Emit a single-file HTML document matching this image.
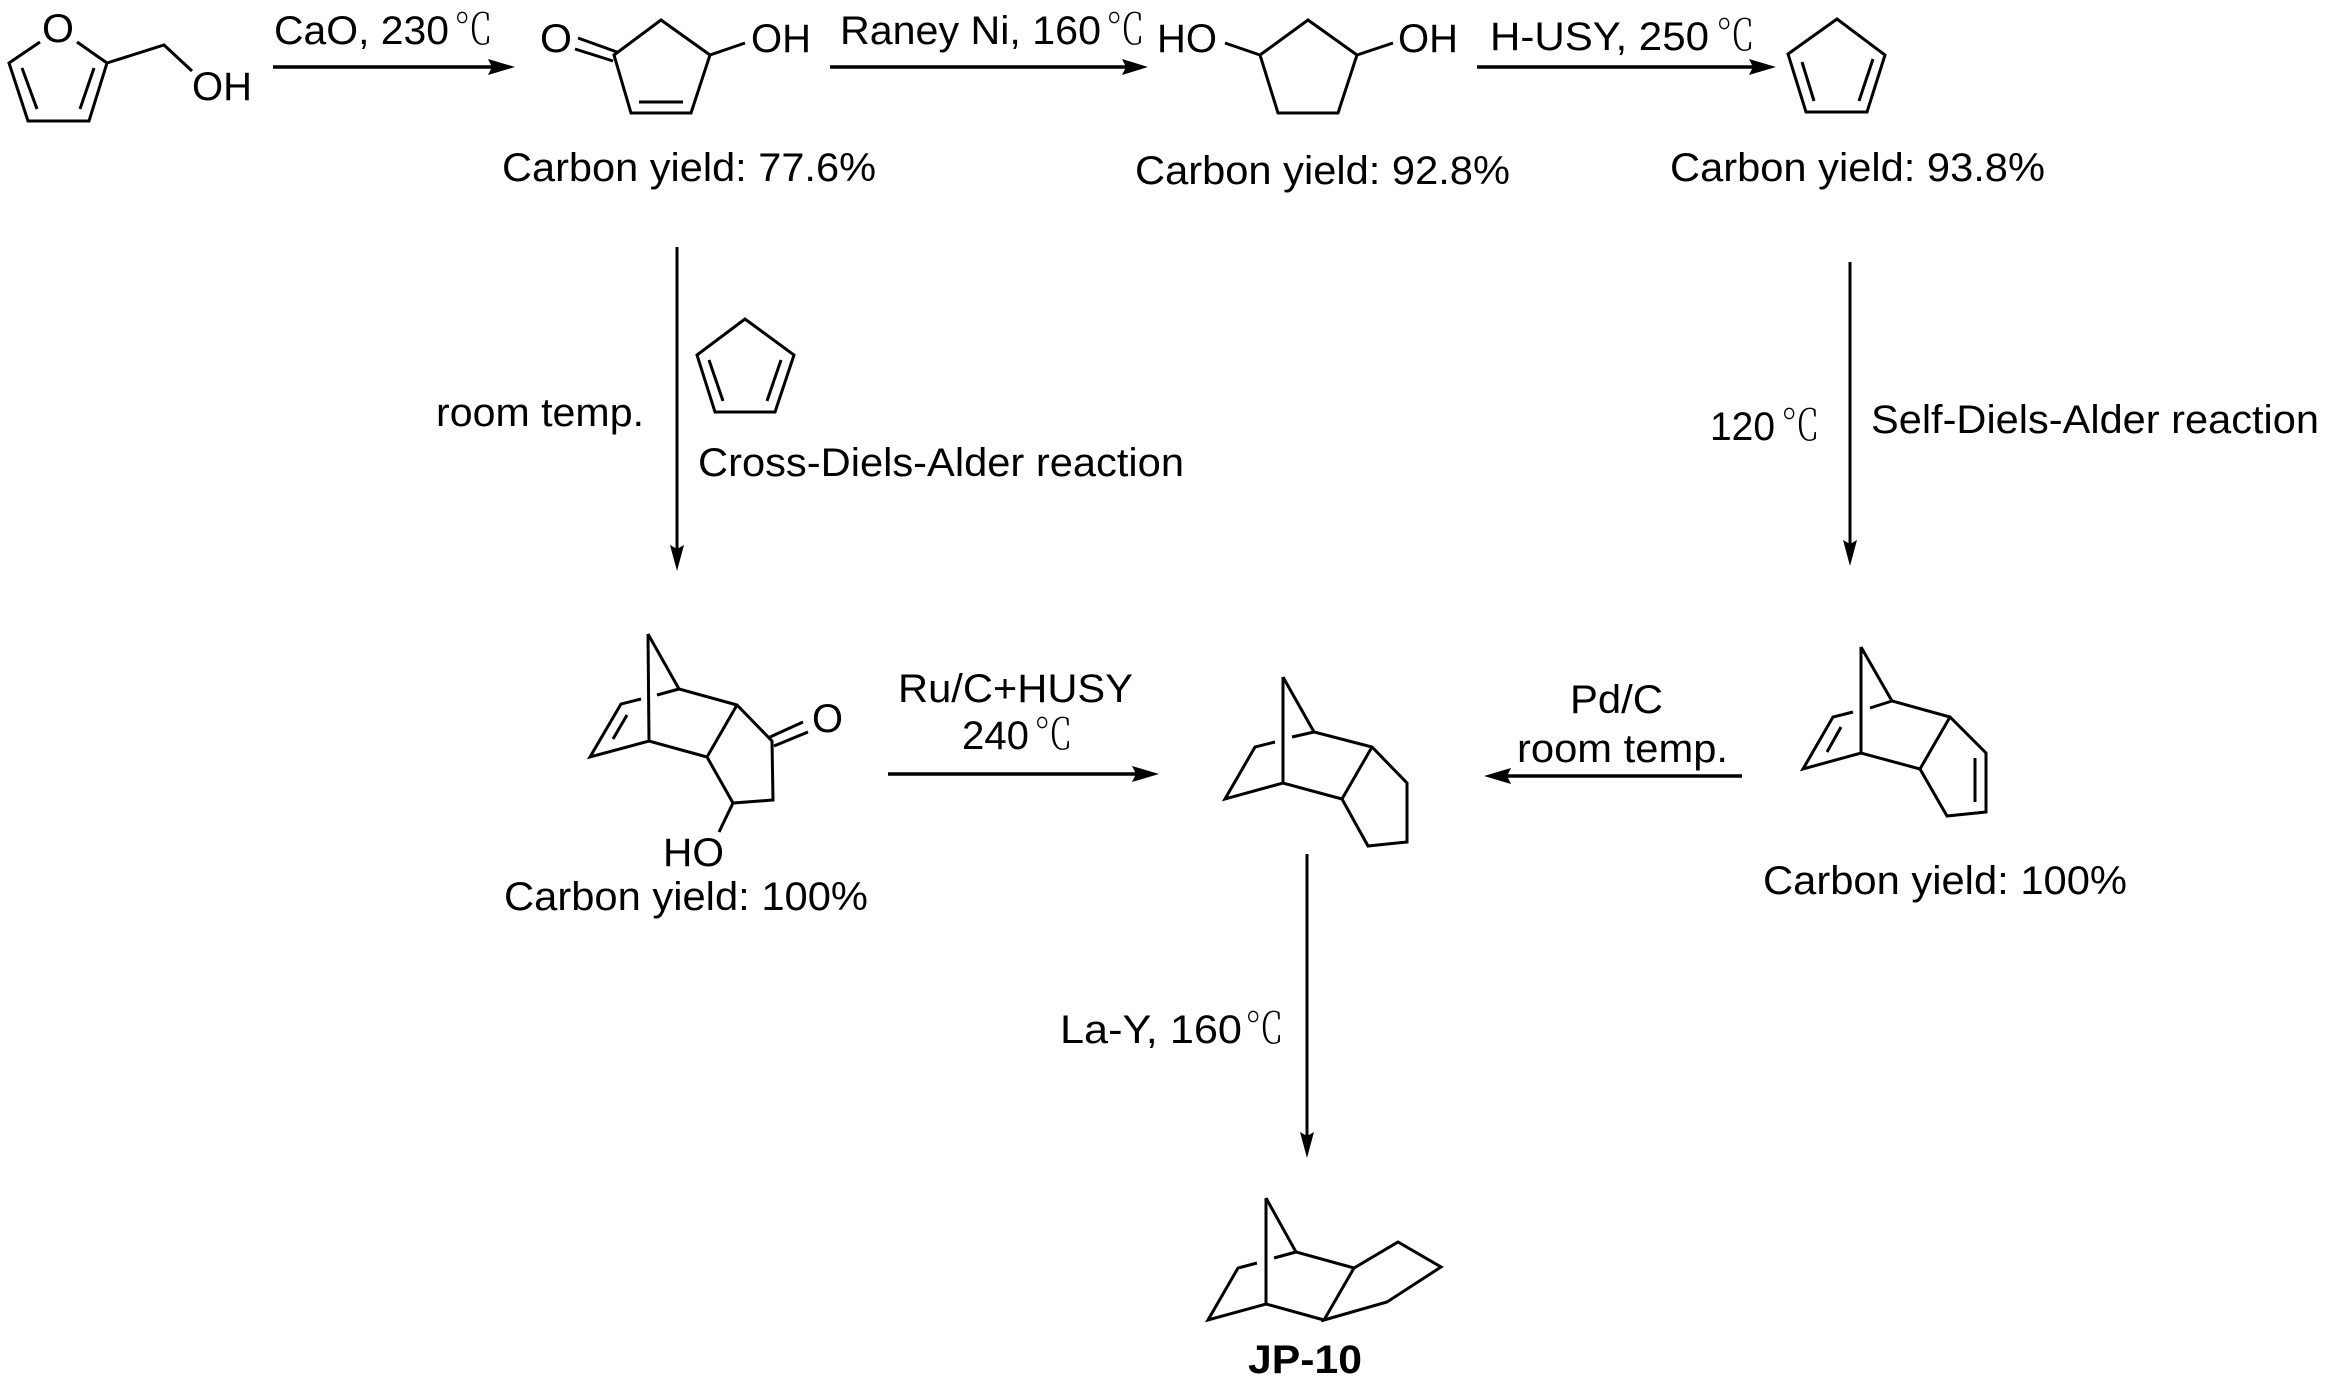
<!DOCTYPE html>
<html><head><meta charset="utf-8">
<style>
html,body{margin:0;padding:0;background:#fff}
svg{display:block}
text{font-family:"Liberation Sans",sans-serif;font-size:39.5px;fill:#000}
text.c{font-family:"Noto Serif CJK SC",serif;font-weight:200;font-size:42px}
.b{fill:none;stroke:#000;stroke-width:3;stroke-linejoin:miter;stroke-linecap:butt}
.a{stroke:#000;stroke-width:3.4;fill:none}
</style></head>
<body>
<svg width="2329" height="1394" viewBox="0 0 2329 1394" xmlns="http://www.w3.org/2000/svg">
<rect width="2329" height="1394" fill="#fff"/>

<!-- Furfuryl alcohol -->
<path class="b" d="M40,42 L9,63 L28,121 L89,121 L107,63 L77,42 M22,68 L37,109 M94,68 L80,109 M107,63 L164,45 L192,71"/>
<text x="42" y="42" textLength="32" lengthAdjust="spacingAndGlyphs">O</text>
<text x="192" y="100" textLength="60" lengthAdjust="spacingAndGlyphs">OH</text>

<!-- Arrow 1 -->
<line class="a" x1="273" y1="67" x2="495" y2="67"/>
<path d="M515,67 L488,59 L492,67 L488,75 Z"/>
<text x="274" y="44" textLength="175" lengthAdjust="spacingAndGlyphs">CaO, 230</text>
<text class="c" x="454" y="44" textLength="39" lengthAdjust="spacingAndGlyphs">℃</text>

<!-- Hydroxycyclopentenone -->
<path class="b" d="M614,55 L661,20 L710,55 L691,113 L631,113 Z M639,102 L683,102 M617,52 L578,38 M613,61 L575,49 M710,55 L745,43"/>
<text x="540" y="52" textLength="32" lengthAdjust="spacingAndGlyphs">O</text>
<text x="751" y="52" textLength="60" lengthAdjust="spacingAndGlyphs">OH</text>
<text x="502" y="181" textLength="374" lengthAdjust="spacingAndGlyphs">Carbon yield: 77.6%</text>

<!-- Arrow 2 -->
<line class="a" x1="830" y1="67" x2="1128" y2="67"/>
<path d="M1148,67 L1122,59 L1126,67 L1122,75 Z"/>
<text x="840" y="44" textLength="261" lengthAdjust="spacingAndGlyphs">Raney Ni, 160</text>
<text class="c" x="1106" y="44" textLength="39" lengthAdjust="spacingAndGlyphs">℃</text>

<!-- Cyclopentanediol -->
<path class="b" d="M1260,55 L1308,20 L1357,55 L1338,113 L1278,113 Z M1260,55 L1225,43 M1357,55 L1393,43"/>
<text x="1157" y="52" textLength="60" lengthAdjust="spacingAndGlyphs">HO</text>
<text x="1398" y="52" textLength="60" lengthAdjust="spacingAndGlyphs">OH</text>
<text x="1135" y="184" textLength="375" lengthAdjust="spacingAndGlyphs">Carbon yield: 92.8%</text>

<!-- Arrow 3 -->
<line class="a" x1="1477" y1="67" x2="1755" y2="67"/>
<path d="M1776,67 L1749,59 L1753,67 L1749,75 Z"/>
<text x="1490" y="50" textLength="219" lengthAdjust="spacingAndGlyphs">H-USY, 250</text>
<text class="c" x="1716" y="50" textLength="39" lengthAdjust="spacingAndGlyphs">℃</text>

<!-- Cyclopentadiene top -->
<path class="b" d="M1788,54 L1837,19 L1885,55 L1867,112 L1806,112 Z M1802,62 L1814,101 M1873,59 L1859,101"/>
<text x="1670" y="181" textLength="375" lengthAdjust="spacingAndGlyphs">Carbon yield: 93.8%</text>

<!-- Left vertical arrow -->
<line class="a" x1="677" y1="247" x2="677" y2="550" style="stroke-width:3"/>
<path d="M677,571 L670,545 L677,549 L684,545 Z"/>
<text x="436" y="426" textLength="208" lengthAdjust="spacingAndGlyphs">room temp.</text>
<path class="b" d="M697,355 L745,319 L794,355 L775,412 L715,412 Z M709,360 L723,401 M781,360 L767,401"/>
<text x="698" y="476" textLength="486" lengthAdjust="spacingAndGlyphs">Cross-Diels-Alder reaction</text>

<!-- Right vertical arrow -->
<line class="a" x1="1850" y1="262" x2="1856" y2="262" style="stroke-width:0"/>
<line class="a" x1="1856" y1="262" x2="1856" y2="545" style="stroke-width:0"/>
<line class="a" x1="1856" y1="262" x2="1856" y2="262" style="stroke-width:0"/>
<line class="a" x1="1850" y1="262" x2="1850" y2="545" style="stroke-width:3"/>
<path d="M1850,566 L1843,540 L1850,544 L1857,540 Z"/>
<text x="1710" y="440" textLength="65" lengthAdjust="spacingAndGlyphs">120</text>
<text class="c" x="1781" y="440" textLength="39" lengthAdjust="spacingAndGlyphs">℃</text>
<text x="1871" y="433" textLength="448" lengthAdjust="spacingAndGlyphs">Self-Diels-Alder reaction</text>

<!-- Cross adduct -->
<path class="b" d="M648,634 L649,741 M648,634 L679,689 L737,705 L772,741 L773,800 L733,803 L707,757 L737,705 M707,757 L649,741 L590,757 L621,704 L641,699 M657,695 L679,689 M627,715 L613,739 M770,737 L803,722 M774,746 L808,732 M733,803 L719,832"/>
<text x="812" y="732" textLength="31" lengthAdjust="spacingAndGlyphs">O</text>
<text x="663" y="866" textLength="61" lengthAdjust="spacingAndGlyphs">HO</text>
<text x="504" y="910" textLength="364" lengthAdjust="spacingAndGlyphs">Carbon yield: 100%</text>

<!-- Ru/C arrow -->
<text x="898" y="702" textLength="235" lengthAdjust="spacingAndGlyphs">Ru/C+HUSY</text>
<text x="962" y="749" textLength="67" lengthAdjust="spacingAndGlyphs">240</text>
<text class="c" x="1034" y="749" textLength="39" lengthAdjust="spacingAndGlyphs">℃</text>
<line class="a" x1="888" y1="774" x2="1137" y2="774"/>
<path d="M1159,774 L1132,766 L1136,774 L1132,782 Z"/>

<!-- Middle structure -->
<path class="b" d="M1283,677 L1283,783 M1283,677 L1314,732 L1372,747 L1407,783 L1407,842 L1368,846 L1342,799 L1372,747 M1342,799 L1283,783 L1225,799 L1255,747 L1275,742 M1292,737 L1314,732"/>

<!-- Pd/C arrow -->
<text x="1570" y="713" textLength="93" lengthAdjust="spacingAndGlyphs">Pd/C</text>
<text x="1517" y="762" textLength="211" lengthAdjust="spacingAndGlyphs">room temp.</text>
<line class="a" x1="1742" y1="776" x2="1500" y2="776"/>
<path d="M1484,776 L1511,768 L1507,776 L1511,784 Z"/>

<!-- Self adduct -->
<path class="b" d="M1861,647 L1861,753 M1861,647 L1892,701 L1950,717 L1986,753 L1986,812 L1947,816 L1920,769 L1950,717 M1920,769 L1861,753 L1803,769 L1833,717 L1853,712 M1870,708 L1892,701 M1841,727 L1827,752 M1975,758 L1975,802"/>
<text x="1763" y="894" textLength="364" lengthAdjust="spacingAndGlyphs">Carbon yield: 100%</text>

<!-- Bottom vertical arrow -->
<line class="a" x1="1307" y1="854" x2="1307" y2="1137" style="stroke-width:3"/>
<path d="M1307,1158 L1300,1132 L1307,1136 L1314,1132 Z"/>
<text x="1060" y="1043" textLength="182" lengthAdjust="spacingAndGlyphs">La-Y, 160</text>
<text class="c" x="1245" y="1043" textLength="39" lengthAdjust="spacingAndGlyphs">℃</text>

<!-- JP-10 -->
<path class="b" d="M1266,1198 L1266,1304 M1266,1198 L1296,1252 L1354,1268 L1398,1242 L1441,1267 L1387,1302 L1324,1320 L1354,1268 M1324,1320 L1266,1304 L1208,1320 L1238,1268 L1257,1263 M1274,1258 L1296,1252"/>
<text x="1248" y="1373" textLength="114" lengthAdjust="spacingAndGlyphs" style="font-weight:bold">JP-10</text>
</svg>
</body></html>
